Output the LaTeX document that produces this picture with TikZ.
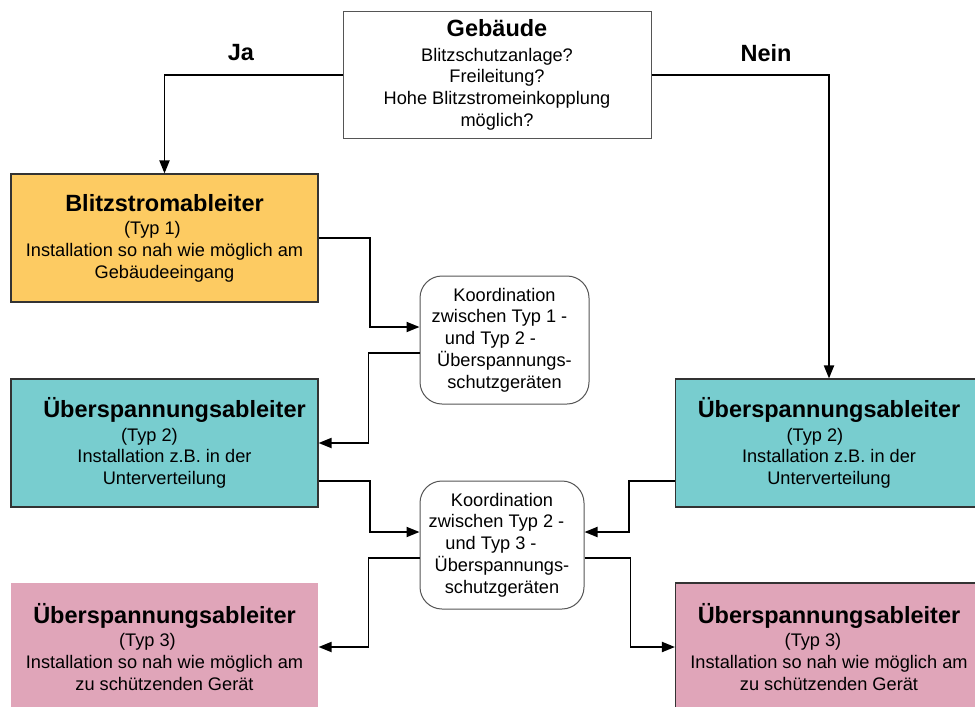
\documentclass[tikz,border=0pt]{standalone}
\usepackage{fontspec}
\setmainfont{Liberation Sans}
\usetikzlibrary{arrows.meta}
\definecolor{yelfill}{HTML}{FDCB62}
\definecolor{tealfill}{HTML}{78CDCF}
\definecolor{pinkfill}{HTML}{E0A5B9}
\definecolor{bord}{HTML}{333333}
\definecolor{grayb}{HTML}{555555}
\newcommand\ttl[1]{{\fontsize{23.5}{24}\selectfont\bfseries #1}}
\newcommand\sh[1]{\rule{#1}{0pt}}
\tikzset{
  bodyfont/.style={font=\fontsize{18.2}{21.8}\selectfont},
  box/.style={bodyfont, draw=bord, line width=1.1pt, minimum width=307pt,
    minimum height=128pt, inner sep=0pt, align=center},
  qbox/.style={bodyfont, draw=grayb, line width=1pt, minimum width=308pt,
    minimum height=127pt, inner sep=0pt, align=center},
  koord/.style={bodyfont, draw=grayb, line width=1pt, rounded corners=22pt,
    minimum height=128pt, inner sep=0pt, align=center},
  conn/.style={line width=1.9pt, -{Triangle[length=13pt,width=10pt]}},
  lbl/.style={font=\fontsize{23.5}{24}\selectfont\bfseries}
}
\begin{document}
\begin{tikzpicture}[x=1pt,y=-1pt]
\clip (0,0) rectangle (975,707);
\fill[white] (0,0) rectangle (975,707);

\node[qbox] (geb) at (497,75)
  {\ttl{Gebäude}\\[2.5pt] Blitzschutzanlage?\\ Freileitung?\\ Hohe Blitzstromeinkopplung\\ möglich?};

\node[box, fill=yelfill] (blitz) at (164.5,238)
  {\ttl{Blitzstromableiter}\\[1.5pt] (Typ 1)\sh{24pt}\\ Installation so nah wie möglich am\\ Gebäudeeingang};

\node[box, fill=tealfill] (typ2l) at (164.5,443)
  {\sh{20pt}\ttl{Überspannungsableiter}\\[1.5pt] (Typ 2)\sh{30pt}\\ Installation z.B. in der\\ Unterverteilung};

\node[box, draw=none, fill=pinkfill] (typ3l) at (164.5,647)
  {\ttl{Überspannungsableiter}\\[1.5pt] (Typ 3)\sh{34pt}\\ Installation so nah wie möglich am\\ zu schützenden Gerät};

\node[box, fill=tealfill] (typ2r) at (829,443)
  {\ttl{Überspannungsableiter}\\[1.5pt] (Typ 2)\sh{28pt}\\ Installation z.B. in der\\ Unterverteilung};

\node[box, fill=pinkfill] (typ3r) at (829,647)
  {\ttl{Überspannungsableiter}\\[1.5pt] (Typ 3)\sh{32pt}\\ Installation so nah wie möglich am\\ zu schützenden Gerät};

\node[koord, minimum width=169pt] (k1) at (504.5,340)
  {Koordination\\ zwischen Typ 1 -\sh{10pt}\\ und Typ 2 -\sh{28pt}\\ Überspannungs-\\ schutzgeräten};

\node[koord, minimum width=164pt] (k2) at (502,545)
  {Koordination\\ zwischen Typ 2 -\sh{11pt}\\ und Typ 3 -\sh{22pt}\\ Überspannungs-\\ schutzgeräten};

\node[lbl] (ja) at (241,53) {Ja};
\node[lbl] (nein) at (766,53) {Nein};

\draw[conn] (geb.west) -| (blitz.north);
\draw[conn] (geb.east) -| (typ2r.north);

\draw[conn] (blitz.east) -- ++(51,0) |- ([yshift=13pt]k1.west);
\draw[conn] ([yshift=-13pt]k1.west) -- ++(-51,0) |- (typ2l.east);

\draw[conn] ([yshift=-38pt]typ2l.east) -- ++(51,0) |- ([yshift=13pt]k2.west);
\draw[conn] ([yshift=-13pt]k2.west) -- ++(-51,0) |- (typ3l.east);

\draw[conn] ([yshift=-38pt]typ2r.west) -- ++(-46,0) |- ([yshift=13pt]k2.east);
\draw[conn] ([yshift=-13pt]k2.east) -- ++(46,0) |- (typ3r.west);
\end{tikzpicture}
\end{document}
